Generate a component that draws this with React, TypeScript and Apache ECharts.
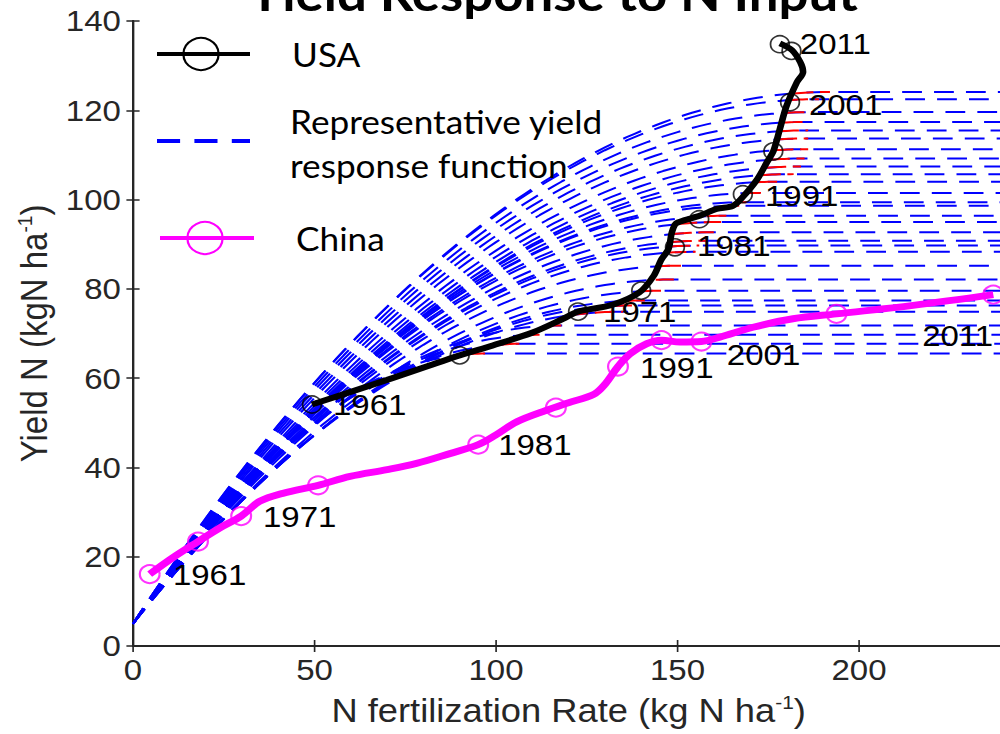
import React, { useEffect, useRef } from "react";
import * as echarts from "echarts";

// ---------- data ----------
const X_MIN = 0;
const X_MAX = 240;
const X_INTERVAL = 50;
const Y_MIN = 0;
const Y_MAX = 140;
const Y_INTERVAL = 20;

// USA trajectory (N rate, yield N)
const usaPath: [number, number][] = [
  [49.3, 54.1], [70, 59.6], [90, 65.1], [99, 67.3], [110, 70.2], [118.5, 73.3],
  [122.6, 74.9], [132, 76.4], [139.5, 79.2], [143.5, 83], [145.5, 86.5], [147.5, 88.9],
  [148.4, 92.5], [149.5, 94.6], [152, 95.4], [156.2, 96.4], [160.8, 97.9], [165.3, 98.6],
  [168, 100.6], [172, 104.6], [174.6, 108.3], [176.4, 110.8], [178.2, 115.8], [180, 120.9],
  [182.9, 126.3], [184.6, 128.6], [183.8, 130.8], [181.5, 133.5], [178.2, 135],
];
const usaMarkers: [number, number][] = [
  [49.3, 54.1], [90, 65.1], [122.6, 74.9], [140, 79.6], [149.3, 89.3], [156, 95.6],
  [168, 101.2], [176.4, 110.8], [181, 121.8], [181.4, 133.3], [178.2, 134.8],
];
const usaLabels: [number, number, string][] = [
  [55.1, 54.1, "1961"], [129.5, 74.9, "1971"], [155.4, 89.6, "1981"],
  [174.1, 100.8, "1991"], [186.2, 121.3, "2001"], [183.7, 135, "2011"],
];

// China trajectory
const chinaPath: [number, number][] = [
  [4.6, 16.1], [11, 19.8], [17.9, 23.4], [24, 26.5], [29.8, 29.1], [34.9, 32.4],
  [41.3, 34.2], [51, 36], [59.8, 38], [70, 39.5], [78.1, 40.9], [87.3, 43.1],
  [95.1, 45.1], [100, 47.3], [105.7, 50.2], [113.9, 52.8], [120, 54.5], [127, 56.4],
  [130, 58.6], [133.6, 62.6], [137, 65.5], [141.5, 67.7], [145.6, 68.5], [150.7, 68.1],
  [156.6, 68.2], [161.7, 69.2], [170.8, 71.4], [181.8, 73.3], [193.8, 74.4],
  [214.9, 76.3], [237, 78.7],
];
const chinaMarkers: [number, number][] = [
  [4.6, 16.1], [17.9, 23.4], [29.8, 29.1], [51, 36], [95.1, 45.1], [116.5, 53.4],
  [133.6, 62.6], [145.6, 68.5], [156.6, 68.2], [193.8, 74.4], [237, 78.7],
];
const chinaLabels: [number, number, string][] = [
  [11, 15.9, "1961"], [35.8, 29, "1971"], [100.6, 45.1, "1981"],
  [139.7, 62.3, "1991"], [163.6, 65.3, "2001"], [217.4, 69.5, "2011"],
];

// Representative quadratic-plateau yield response functions
const responseIntercept = 5;
const plateauYield = [
  65.5, 67.7, 69.7, 71.8, 74.9, 76.3, 77.4, 79.6, 82.1, 85.2,
  88.3, 89.7, 90.8, 92.7, 95.0, 96.4, 98.6, 99.4, 101.5, 104.0,
  105.7, 107.4, 109.2, 111.3, 113.7, 115.5, 117.4, 119.6, 122.5, 124.1,
];
const plateauN = [
  97, 107, 112, 118, 135, 138, 141, 146, 149, 151,
  155, 156, 158, 160, 162, 164, 167, 169, 173, 178,
  182, 184, 185, 186, 186, 186, 186, 187, 189, 192,
];
const actualN = [
  92, 101, 109, 115, 120, 132, 136, 140, 144, 145.5,
  147, 148, 148.5, 148.5, 150, 158, 163, 166, 168, 172,
  173, 174.5, 175.5, 176.5, 177.5, 178, 179, 179.5, 180.5, 182,
];

const legendItems = ["USA", "Representative yield\nresponse function", "China"];
const titleText = "Yield Response to N Input";
const xName = "N fertilization Rate (kg N ha";
const yName = "Yield N (kgN ha";

// ---------- helpers ----------
function response(n: number, ymax: number, nmax: number) {
  if (n >= nmax) return ymax;
  const r = 1 - n / nmax;
  return ymax - (ymax - responseIntercept) * r * r;
}
function curveData(i: number) {
  const ymax = plateauYield[i];
  const nmax = plateauN[i];
  const pts: number[][] = [];
  for (let n = 0; n < nmax; n += 2) pts.push([n, response(n, ymax, nmax)]);
  pts.push([nmax, ymax]);
  pts.push([X_MAX, ymax]);
  return pts;
}
function redData(i: number) {
  const ymax = plateauYield[i];
  const nmax = plateauN[i];
  const pts: number[][] = [];
  for (let n = actualN[i]; n < nmax; n += 1) pts.push([n, response(n, ymax, nmax)]);
  pts.push([nmax, ymax]);
  return pts;
}

const SX = 1.1; // horizontal stretch of the original figure
const AXIS_FONT = "Liberation Sans, Arial, Helvetica, sans-serif";
const LEG_FONT = "Lato, 'Open Sans', sans-serif";
const AX_COLOR = "#262626";

export default function App() {
  const ref = useRef<HTMLDivElement>(null);
  useEffect(() => {
    if (!ref.current) return;
    const chart = echarts.init(ref.current, null, { renderer: "svg" });

    const series: any[] = [];
    plateauYield.forEach((_, i) => {
      series.push({
        type: "line", data: curveData(i), showSymbol: false, symbol: "none",
        lineStyle: { color: "#0000ff", width: 2, type: [18, 11] }, z: 2, silent: true,
      });
    });
    plateauYield.forEach((_, i) => {
      series.push({
        type: "line", data: redData(i), showSymbol: false, symbol: "none",
        lineStyle: { color: "#ff0000", width: 2, type: [18, 6] }, z: 3, silent: true,
      });
    });
    series.push({
      type: "line", data: chinaPath, smooth: 0.35, showSymbol: false, symbol: "none",
      lineStyle: { color: "#ff00ff", width: 7 }, z: 4,
    });
    series.push({
      type: "scatter", data: chinaMarkers, symbol: "circle", symbolSize: 18,
      itemStyle: { color: "rgba(0,0,0,0)", borderColor: "#ff00ff", borderWidth: 2 }, z: 5,
    });
    series.push({
      type: "line", data: usaPath, smooth: 0.3, showSymbol: false, symbol: "none",
      lineStyle: { color: "#000000", width: 6 }, z: 6,
    });
    series.push({
      type: "scatter", data: usaMarkers, symbol: "circle", symbolSize: 17,
      itemStyle: { color: "rgba(0,0,0,0)", borderColor: "#000000", borderWidth: 1.6 }, z: 7,
    });
    const labelSeries = (d: [number, number, string][]) => ({
      type: "scatter", data: d, symbol: "circle", symbolSize: 0,
      itemStyle: { color: "#000", opacity: 1 }, z: 8,
      label: {
        show: true, position: "right", distance: 0,
        formatter: (p: any) => p.data[2],
        fontFamily: AXIS_FONT, fontSize: 30, color: "#000000", opacity: 1,
        textBorderWidth: 0,
      },
    });
    series.push(labelSeries(usaLabels));
    series.push(labelSeries(chinaLabels));

    const axisLine = { show: true, lineStyle: { color: AX_COLOR, width: 2 } };
    const ticksIn = { show: true, inside: true, length: 6, lineStyle: { color: AX_COLOR, width: 1.5 } };

    const L = (x: number) => x / SX; // convert final page x to pre-stretch x

    chart.setOption({
      animation: false,
      grid: { left: L(133), top: 21, width: (X_MAX * 3.63) / SX, height: 627, containLabel: false },
      xAxis: [
        {
          type: "value", min: X_MIN, max: X_MAX, interval: X_INTERVAL, position: "bottom",
          axisLine, axisTick: ticksIn, splitLine: { show: false },
          axisLabel: { fontFamily: AXIS_FONT, fontSize: 30, color: AX_COLOR, margin: 9, showMaxLabel: false },
          name: `{a|${xName}}{s|-1}{a|)}`, nameLocation: "middle", nameGap: 47,
          nameTextStyle: {
            fontFamily: AXIS_FONT, fontSize: 33, color: AX_COLOR, lineHeight: 36,
            rich: {
              a: { fontFamily: AXIS_FONT, fontSize: 33, color: AX_COLOR, lineHeight: 36 },
              s: { fontFamily: AXIS_FONT, fontSize: 19, color: AX_COLOR, lineHeight: 20, verticalAlign: "top" },
            },
          },
        },
        {
          type: "value", min: X_MIN, max: X_MAX, interval: X_INTERVAL, position: "top",
          axisLine, axisTick: ticksIn, axisLabel: { show: false }, splitLine: { show: false },
        },
      ],
      yAxis: [
        {
          type: "value", min: Y_MIN, max: Y_MAX, interval: Y_INTERVAL, position: "left",
          axisLine, axisTick: ticksIn, splitLine: { show: false },
          axisLabel: { fontFamily: AXIS_FONT, fontSize: 30, color: AX_COLOR, margin: 11 },
          name: `{a|${yName}}{s|-1}{a|)}`, nameLocation: "middle", nameGap: 60,
          nameTextStyle: {
            fontFamily: AXIS_FONT, fontSize: 33, color: AX_COLOR, lineHeight: 36,
            rich: {
              a: { fontFamily: AXIS_FONT, fontSize: 33, color: AX_COLOR, lineHeight: 36 },
              s: { fontFamily: AXIS_FONT, fontSize: 19, color: AX_COLOR, lineHeight: 20, verticalAlign: "top" },
            },
          },
        },
        {
          type: "value", min: Y_MIN, max: Y_MAX, interval: Y_INTERVAL, position: "right",
          axisLine, axisTick: ticksIn, axisLabel: { show: false }, splitLine: { show: false },
        },
      ],
      graphic: [
        {
          type: "text", x: L(553), y: -8, z: 20,
          style: { text: titleText, fontFamily: LEG_FONT, fontWeight: "bold", fontSize: 48, fill: "#000", textAlign: "center", textVerticalAlign: "middle" },
        },
        // legend: USA
        { type: "line", shape: { x1: L(157), y1: 54, x2: L(250), y2: 54 }, style: { stroke: "#000", lineWidth: 4 }, z: 20 },
        { type: "circle", shape: { cx: L(201), cy: 54, r: 16 }, style: { stroke: "#000", lineWidth: 2, fill: "rgba(0,0,0,0)" }, z: 20 },
        { type: "text", x: L(292), y: 55, z: 20, style: { text: legendItems[0], fontFamily: LEG_FONT, fontSize: 32, fill: "#000", textVerticalAlign: "middle" } },
        // legend: response function
        { type: "line", shape: { x1: L(157), y1: 141, x2: L(250), y2: 141 }, style: { stroke: "#0000ff", lineWidth: 4, lineDash: [21, 13] }, z: 20 },
        { type: "text", x: L(290), y: 144, z: 20, style: { text: legendItems[1], fontFamily: LEG_FONT, fontSize: 32, lineHeight: 44, fill: "#000", textVerticalAlign: "middle" } },
        // legend: China
        { type: "line", shape: { x1: L(160), y1: 238, x2: L(254), y2: 238 }, style: { stroke: "#ff00ff", lineWidth: 4 }, z: 20 },
        { type: "circle", shape: { cx: L(205), cy: 238, r: 16 }, style: { stroke: "#ff00ff", lineWidth: 2, fill: "rgba(0,0,0,0)" }, z: 20 },
        { type: "text", x: L(296), y: 239, z: 20, style: { text: legendItems[2], fontFamily: LEG_FONT, fontSize: 32, fill: "#000", textVerticalAlign: "middle" } },
      ],
      series,
    });
    return () => chart.dispose();
  }, []);

  return (
    <div style={{ position: "fixed", left: 0, top: 0, width: 1000, height: 734, overflow: "hidden", background: "#fff" }}>
      <div
        ref={ref}
        style={{ width: 960, height: 734, transform: `scaleX(${SX})`, transformOrigin: "0 0" }}
      />
    </div>
  );
}
